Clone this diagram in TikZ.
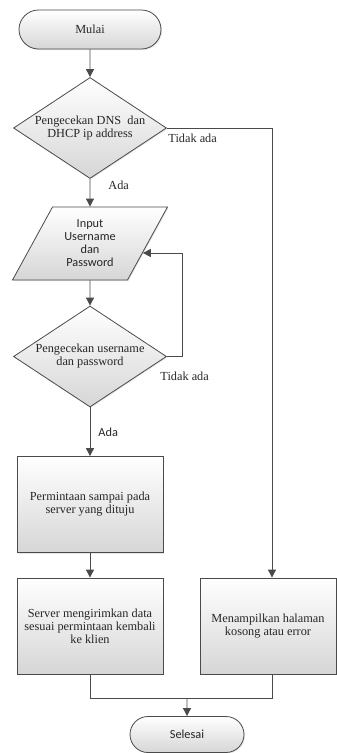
\documentclass[tikz,border=0pt]{standalone}
\usepackage{fontspec}
\setmainfont{Liberation Serif}
\newfontfamily\calibri{Carlito}
\usetikzlibrary{shapes.geometric,shapes.misc,arrows.meta,shadows}
\definecolor{linegray}{HTML}{4A4A4A}
\definecolor{boxgray}{HTML}{D6D6D6}

\begin{document}
\begin{tikzpicture}[x=1pt,y=-1pt,->,>={Triangle[length=8pt,width=8pt]},
  color=linegray,line width=0.9pt,
  font=\fontsize{12.3}{13}\selectfont,text=black!85]
	\tikzstyle{shade} = [draw=linegray,line width=0.8pt,top color=white,bottom color=boxgray,
	                     drop shadow={opacity=0.2,shadow xshift=1pt,shadow yshift=-1pt}]
	\tikzstyle{term}   = [shade,rounded rectangle,inner sep=0pt]
	\tikzstyle{decide} = [shade,diamond,aspect=1.5,inner sep=0pt,align=center,
	                      minimum width=153pt,minimum height=101pt]
	\tikzstyle{io}     = [shade,trapezium,trapezium left angle=60,trapezium right angle=120,
	                      trapezium stretches=true,minimum width=155pt,minimum height=73pt,align=center]
	\tikzstyle{proc}   = [shade,rectangle,minimum height=96pt,align=center]
	\tikzstyle{lbl}    = [anchor=west,inner sep=0pt]
	\tikzstyle{sans}   = [font=\calibri\fontsize{12.3}{13}\selectfont]

	\useasboundingbox (0,0) rectangle (337,753);

	\node[term,minimum width=142pt,minimum height=39pt] (mulai) at (90,29.5) {Mulai};
	\node[decide] (dns) at (90,128) {Pengecekan DNS\ \ dan\\DHCP ip address};
	\node[io,sans] (input) at (90,243.5) {Input\\Username\\dan\\Password};
	\node[decide] (cekuser) at (90,356.5) {Pengecekan username\\dan password};
	\node[proc,minimum width=146pt] (minta) at (90,504.5) {Permintaan sampai pada\\server yang dituju};
	\node[proc,minimum width=146pt] (kirim) at (90,626) {Server mengirimkan data\\sesuai permintaan kembali\\ke klien};
	\node[proc,minimum width=136pt] (kosong) at (268,626) {Menampilkan halaman\\kosong atau error};
	\node[term,sans,minimum width=114pt,minimum height=36pt] (selesai) at (187,734.5) {Selesai};

	\node[lbl] (tidak1) at (168,138) {Tidak ada};
	\node[lbl] (ada1) at (108,185) {Ada};
	\node[lbl] (tidak2) at (160,376) {Tidak ada};
	\node[lbl,sans] (ada2) at (98,432) {Ada};

	\coordinate (kanan) at (272,0);
	\coordinate (balik) at (182,253);
	\coordinate (gabung) at (187,698);

	\path (mulai) edge (dns);
	\path (dns) edge (input);
	\path (input) edge (cekuser);
	\path (cekuser) edge (minta);
	\path (minta) edge (kirim);

	\draw (dns.east) -| (kosong.north -| kanan);
	\draw (cekuser.east) -| (balik) -- (balik -| input.-10);

	\draw[-] (kirim.south) -- (kirim.south |- gabung) -| (kosong.south -| kanan);
	\path (gabung) edge (selesai);
\end{tikzpicture}
\end{document}
